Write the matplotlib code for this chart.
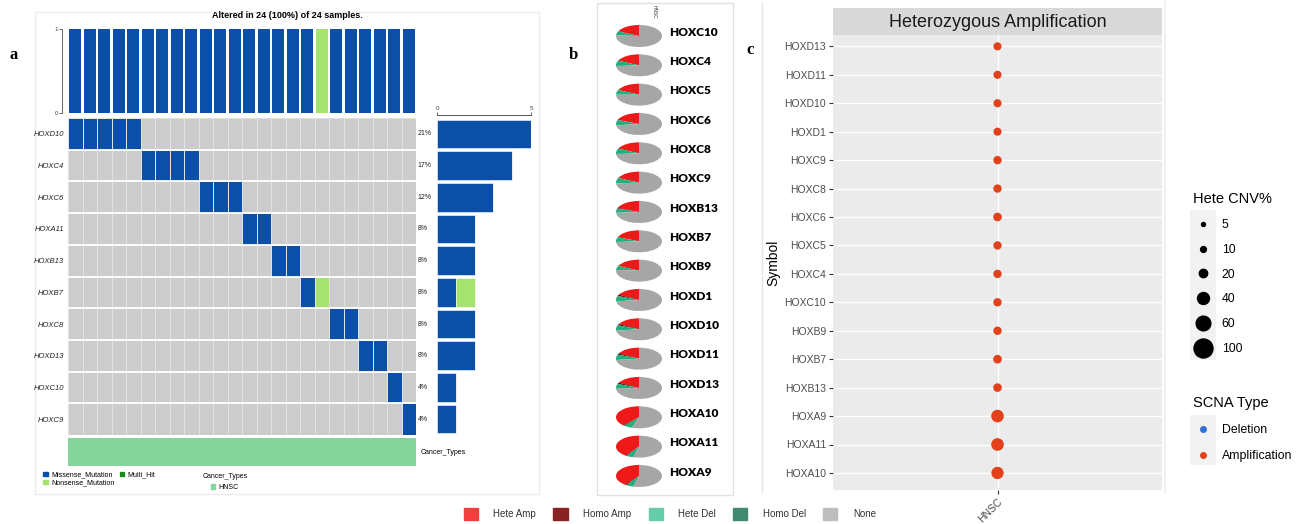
import numpy as np
import matplotlib
matplotlib.use('Agg')
import matplotlib.pyplot as plt
from matplotlib.colors import ListedColormap
from matplotlib.patches import Rectangle, Patch
from matplotlib.lines import Line2D

plt.rcParams['font.family'] = ['Liberation Sans', 'DejaVu Sans']
W, H = 1309, 524

# ---------------- panel a : oncoplot ----------------
a_genes = ['HOXD10', 'HOXC4', 'HOXC6', 'HOXA11', 'HOXB13', 'HOXB7', 'HOXC8', 'HOXD13', 'HOXC10', 'HOXC9']
a_missense = [[0, 1, 2, 3, 4], [5, 6, 7, 8], [9, 10, 11], [12, 13], [14, 15], [16], [18, 19], [20, 21], [22], [23]]
a_nonsense = [[], [], [], [], [], [17], [], [], [], []]
n_samples = 24
cancer_types = ['HNSC'] * n_samples

# ---------------- panel b : CNV pies (% of samples) ----------------
b_genes = ['HOXC10', 'HOXC4', 'HOXC5', 'HOXC6', 'HOXC8', 'HOXC9', 'HOXB13', 'HOXB7',
           'HOXB9', 'HOXD1', 'HOXD10', 'HOXD11', 'HOXD13', 'HOXA10', 'HOXA11', 'HOXA9']
hete_amp = [18, 18, 18, 19, 18, 18, 19, 19, 18, 17, 17, 17, 17, 38, 40, 40]
homo_amp = [0, 0, 0, 0, 0, 0, 1, 0, 0, 2, 2, 2, 2, 1, 1, 1]
hete_del = [6, 8, 7, 8, 8, 8, 6, 7, 6, 8, 8, 8, 6, 6, 5, 5]
homo_del = [0, 0, 0, 0, 0, 0, 0, 0, 0, 0, 0, 0, 1, 0, 0, 0]
cnv_types = ['Hete Amp', 'Homo Amp', 'Hete Del', 'Homo Del', 'None']

# ---------------- panel c : bubble ----------------
size_breaks = [5, 10, 20, 40, 60, 100]
scna_types = ['Deletion', 'Amplification']

blue, lime, gray_cell, cancer_col = '#0a50a8', '#a6e36e', '#cccccc', '#84d49c'
pie_cols = ['#f01818', '#4a0c0c', '#1fb07c', '#2e7d5e', '#a6a6a6']
leg_cols = ['#f23e3e', '#8b2222', '#66cdaa', '#3f8a70', '#bdbdbd']
amp_col, del_col = '#e2411c', '#2f6fd6'


def px_axes(x0, y0, x1, y1):
    return fig.add_axes([x0 / W, 1 - y1 / H, (x1 - x0) / W, (y1 - y0) / H])


def dot_diam(v):  # diameter in px, area linear in value (ggplot scale_size)
    return np.sqrt(np.maximum(3.63 * np.asarray(v, float) - 2.2, 1.0))


fig = plt.figure(figsize=(W / 100, H / 100), dpi=100)

# overlay for frames / letters
lay = px_axes(0, 0, W, H)
lay.set_xlim(0, W), lay.set_ylim(H, 0), lay.axis('off')
lay.add_patch(Rectangle((35, 12), 504, 482, fill=False, ec='#ececec', lw=1))
lay.add_patch(Rectangle((597, 3), 136, 492, fill=False, ec='#e2e2e2', lw=1))
lay.plot([762, 762], [2, 492], color='#e6e6e6', lw=1)
lay.plot([1165, 1165], [2, 492], color='#f0f0f0', lw=1.5)
for lab, x, y in [('a', 14, 55), ('b', 573, 55), ('c', 750, 50)]:
    lay.text(x, y, lab, fontsize=12, fontweight='bold', family='Liberation Serif', ha='center', va='center')

# matrix
mat = np.zeros((len(a_genes), n_samples))
for i, (ms, ns) in enumerate(zip(a_missense, a_nonsense)):
    mat[i, ms] = 1
    mat[i, ns] = 2
miss_per_sample = (mat == 1).sum(axis=0)
non_per_sample = (mat == 2).sum(axis=0)
n_altered = int(((miss_per_sample + non_per_sample) > 0).sum())

# top bar
ax_top = px_axes(68, 29, 416, 113)
xs = np.arange(n_samples) + 0.5
ax_top.bar(xs, miss_per_sample, width=0.86, color=blue)
ax_top.bar(xs, non_per_sample, width=0.86, bottom=miss_per_sample, color=lime)
ax_top.set_xlim(0, n_samples), ax_top.set_ylim(0, 1)
ax_top.set_xticks([]), ax_top.set_yticks([0, 1])
ax_top.tick_params(axis='y', labelsize=4.5, length=2, width=0.6, pad=1, colors='#444')
for s in ['top', 'right', 'bottom']:
    ax_top.spines[s].set_visible(False)
ax_top.spines['left'].set_position(('outward', 4))
ax_top.spines['left'].set_color('#666')
ax_top.spines['left'].set_linewidth(0.7)
ax_top.patch.set_alpha(0)
lay.text(287, 16, 'Altered in {} ({}%) of {} samples.'.format(n_altered, round(100 * n_altered / n_samples), n_samples),
         fontsize=6.5, fontweight='bold', ha='center', va='center')

# grid
ax_g = px_axes(68, 118, 416, 435)
ax_g.pcolormesh(np.arange(n_samples + 1), np.arange(len(a_genes) + 1), mat,
                cmap=ListedColormap([gray_cell, blue, lime]), vmin=0, vmax=2, edgecolors='#e2e2e2', linewidth=0.4)
for r in range(1, len(a_genes)):
    ax_g.axhline(r, color='white', lw=1.3)
ax_g.set_xlim(0, n_samples), ax_g.set_ylim(len(a_genes), 0)
ax_g.set_xticks([])
ax_g.set_yticks(np.arange(len(a_genes)) + 0.5)
ax_g.set_yticklabels(a_genes, fontsize=5.5, fontstyle='italic', color='#222')
ax_g.tick_params(axis='y', length=0, pad=3)
for s in ax_g.spines.values():
    s.set_visible(False)
for i, (ms, ns) in enumerate(zip(a_missense, a_nonsense)):
    pct = round(100 * (len(ms) + len(ns)) / n_samples)
    ax_g.text(n_samples + 0.12, i + 0.5, '{}%'.format(pct), fontsize=5, va='center', ha='left', color='#222')

# right bar
ax_r = px_axes(437, 118, 531, 435)
n_miss = [len(m) for m in a_missense]
n_non = [len(n) for n in a_nonsense]
ys = np.arange(len(a_genes)) + 0.5
ax_r.barh(ys, n_miss, height=0.9, color=blue, edgecolor='white', lw=0.4)
ax_r.barh(ys, n_non, left=n_miss, height=0.9, color=lime, edgecolor='white', lw=0.4)
ax_r.set_xlim(0, 5), ax_r.set_ylim(len(a_genes), 0)
ax_r.xaxis.tick_top()
ax_r.set_xticks([0, 5]), ax_r.set_yticks([])
ax_r.tick_params(axis='x', labelsize=4.5, length=2, width=0.6, pad=1, colors='#444')
for s in ['bottom', 'left', 'right']:
    ax_r.spines[s].set_visible(False)
ax_r.spines['top'].set_position(('outward', 2))
ax_r.spines['top'].set_color('#555')
ax_r.spines['top'].set_linewidth(0.7)
ax_r.patch.set_alpha(0)

# cancer type bar
ax_ct = px_axes(68, 438, 416, 466)
ax_ct.bar(xs, [1 if c == 'HNSC' else 0 for c in cancer_types], width=1, color=cancer_col)
ax_ct.set_xlim(0, n_samples), ax_ct.set_ylim(0, 1)
ax_ct.axis('off')
ax_ct.text(1.012, 0.5, 'Cancer_Types', transform=ax_ct.transAxes, fontsize=5, va='center')

h_var = [Patch(color=blue), Patch(color=lime), Patch(color='#1a8a1a')]
leg1 = lay.legend(h_var, ['Missense_Mutation', 'Nonsense_Mutation', 'Multi_Hit'], ncol=2, loc='upper left',
                  bbox_to_anchor=(40 / W, 1 - 468 / H), bbox_transform=fig.transFigure, fontsize=5, frameon=False,
                  handlelength=0.6, handleheight=0.6, handletextpad=0.5, columnspacing=0.8, labelspacing=0.15,
                  borderpad=0)
lay.add_artist(leg1)
leg2 = lay.legend([Patch(color=cancer_col)], ['HNSC'], title='Cancer_Types', loc='upper left',
                  bbox_to_anchor=(199 / W, 1 - 470 / H), bbox_transform=fig.transFigure, fontsize=5,
                  title_fontsize=5, frameon=False, handlelength=0.6, handleheight=0.6, handletextpad=0.5, borderpad=0)
lay.add_artist(leg2)

# ---------------- panel b ----------------
ax_b = px_axes(600, 10, 730, 494)
row = 29.33 / 11.0   # row spacing in y units (1 unit = 11 px, x unit = 23 px)
for i, g in enumerate(b_genes):
    vals = [hete_amp[i], homo_amp[i], hete_del[i], homo_del[i]]
    vals = vals + [100 - sum(vals)]
    ax_b.pie(vals, colors=pie_cols, startangle=90, counterclock=True, center=(0, -i * row), radius=1,
             wedgeprops=dict(linewidth=0))
    ax_b.text(1.33, -i * row + 0.35, g, fontsize=8.6, fontweight='heavy', family=['Lato', 'DejaVu Sans'],
              ha='left', va='center')
ax_b.set_aspect('auto')
ax_b.set_xlim(-39 / 23, 91 / 23)
ax_b.set_ylim(26 / 11 - 484 / 11, 26 / 11)
ax_b.axis('off')
lay.text(654, 12, 'HNSC', fontsize=3.5, rotation=-90, ha='center', va='center', color='#333')

leg3 = lay.legend([Patch(color=c) for c in leg_cols], cnv_types, ncol=5, loc='center left',
                  bbox_to_anchor=(455 / W, 1 - 514 / H), bbox_transform=fig.transFigure, fontsize=7,
                  frameon=False, handlelength=1.45, handleheight=1.45, handletextpad=1.6, columnspacing=1.78,
                  labelcolor='#333')
lay.add_artist(leg3)

# ---------------- panel c ----------------
c_genes = sorted(b_genes)
c_vals = [hete_amp[b_genes.index(g)] for g in c_genes]
ax_s = px_axes(833, 8, 1162, 35)
ax_s.set_facecolor('#d9d9d9')
ax_s.set_xticks([]), ax_s.set_yticks([])
for s in ax_s.spines.values():
    s.set_visible(False)
ax_s.text(0.5, 0.48, 'Heterozygous Amplification', fontsize=13, color='#1a1a1a', ha='center', va='center')

ax_c = px_axes(833, 35, 1162, 490)
ax_c.set_facecolor('#ebebeb')
ax_c.scatter(np.zeros(len(c_genes)), np.arange(len(c_genes)), s=(dot_diam(c_vals) * 0.76) ** 2,
             color=amp_col, zorder=3, linewidths=0)
ax_c.set_xlim(-0.6, 0.6), ax_c.set_ylim(-0.6, len(c_genes) - 0.6)
ax_c.set_yticks(np.arange(len(c_genes)))
ax_c.set_yticklabels(c_genes)
ax_c.set_xticks([0])
ax_c.set_xticklabels(['HNSC'], rotation=45, ha='right', va='top', rotation_mode='anchor')
ax_c.tick_params(length=3, width=0.8, color='#333', labelsize=7.5, labelcolor='#4d4d4d', pad=2)
ax_c.grid(True, color='white', lw=1.0)
ax_c.set_axisbelow(True)
for s in ax_c.spines.values():
    s.set_visible(False)
ax_c.set_ylabel('Symbol', fontsize=10, labelpad=3)

# legends for c
lay.add_patch(Rectangle((1190, 210), 26, 150, color='#f2f2f2', lw=0))
lay.add_patch(Rectangle((1190, 415), 26, 50, color='#f2f2f2', lw=0))
h_size = [Line2D([], [], ls='', marker='o', color='black', markersize=dot_diam(v) * 0.72) for v in size_breaks]
leg4 = lay.legend(h_size, [str(v) for v in size_breaks], title='Hete CNV%', loc='upper left',
                  bbox_to_anchor=(1187 / W, 1 - 186 / H), bbox_transform=fig.transFigure, fontsize=8.8,
                  title_fontsize=10.5, frameon=False, alignment='left', labelspacing=1.05,
                  handlelength=1.6, handletextpad=0.75, borderpad=0)
lay.add_artist(leg4)
h_type = [Line2D([], [], ls='', marker='o', color=c, markersize=4) for c in [del_col, amp_col]]
leg5 = lay.legend(h_type, scna_types, title='SCNA Type', loc='upper left',
                  bbox_to_anchor=(1187 / W, 1 - 390 / H), bbox_transform=fig.transFigure, fontsize=8.8,
                  title_fontsize=10.5, frameon=False, alignment='left', labelspacing=1.15,
                  handlelength=1.6, handletextpad=0.75, borderpad=0)

fig.savefig('out.png', dpi=100)
